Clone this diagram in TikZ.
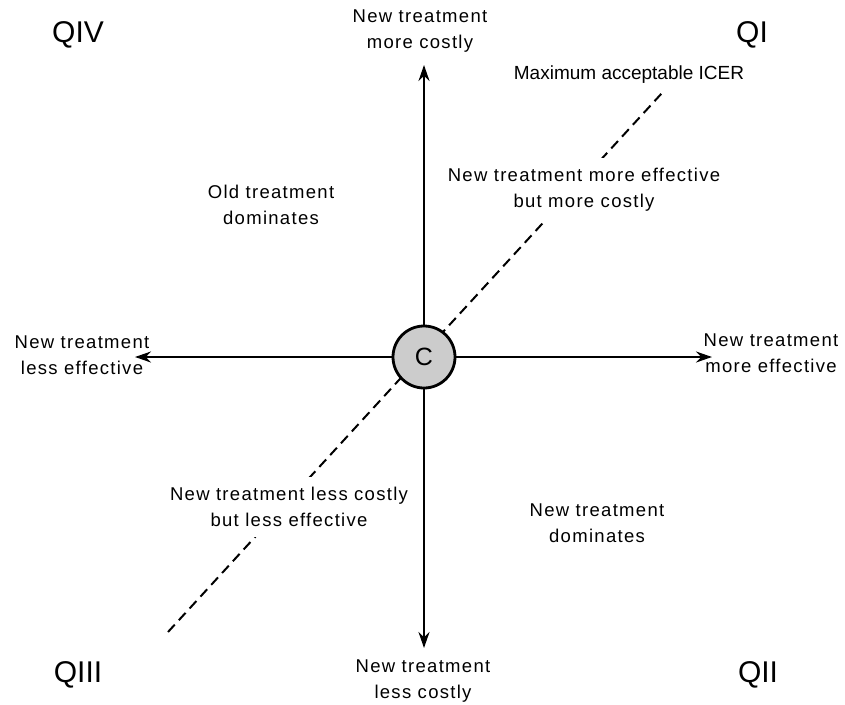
\documentclass[tikz,border=0pt]{standalone}
\usepackage{fontspec}
\setmainfont{Liberation Sans}
\newfontfamily\spacedfont{Liberation Sans}[LetterSpace=7.0]
\usetikzlibrary{arrows.meta,backgrounds}

\begin{document}
\begin{tikzpicture}[
    x=1pt, y=-1pt,
    lbl/.style={align=center, font=\spacedfont\fontsize{18.5}{26}\selectfont, inner sep=2pt},
    masked/.style={lbl, fill=white, inner xsep=3pt, inner ysep=10pt},
    quad/.style={font=\fontsize{30}{30}\selectfont},
    arrow/.style={-{Stealth[length=16pt,width=11pt]}, line width=2.2pt},
    icer/.style={dashed, dash pattern=on 10pt off 6pt, line width=2pt}
]
\useasboundingbox (0,0) rectangle (845,704);

% origin of the plane
\node[circle, draw, line width=2.8pt, fill=gray!40, minimum size=62pt, inner sep=0pt,
      font=\fontsize{25}{25}\selectfont] (C) at (424,357) {C};

% axis ends
\coordinate (top) at (424,65);
\coordinate (bot) at (424,648);
\coordinate (lft) at (135,357);
\coordinate (rgt) at (712,357);

% threshold line
\coordinate (lo) at (168,632);
\coordinate (hi) at (662,93);

% quadrants
\node[quad] (q4) at (78,35) {QIV};
\node[quad] (q1) at (752,35) {QI};
\node[quad] (q3) at (78,675) {QIII};
\node[quad] (q2) at (758,675) {QII};

% axis labels
\node[lbl] (costly) at (420,31) {New treatment\\more costly};
\node[lbl] (cheap) at (423,681) {New treatment\\less costly};
\node[lbl] (worse) at (82,355) {New treatment\\less effective};
\node[lbl] (better) at (771,353) {New treatment\\more effective};
\node[lbl, font=\fontsize{19}{24}\selectfont] (icerlbl) at (629,75) {Maximum acceptable ICER};

% quadrant texts
\node[masked] (ne) at (584,190) {New treatment more effective\\but more costly};
\node[lbl] (old) at (271,205) {Old treatment\\dominates};
\node[masked] (sw) at (289,507) {New treatment less costly\\but less effective};
\node[lbl] (newdom) at (597,523) {New treatment\\dominates};

\draw[arrow] (C) -- (top);
\draw[arrow] (C) -- (bot);
\draw[arrow] (C) -- (lft);
\draw[arrow] (C) -- (rgt);

\begin{scope}[on background layer]
\draw[icer] (lo) -- (hi);
\end{scope}
\end{tikzpicture}
\end{document}
